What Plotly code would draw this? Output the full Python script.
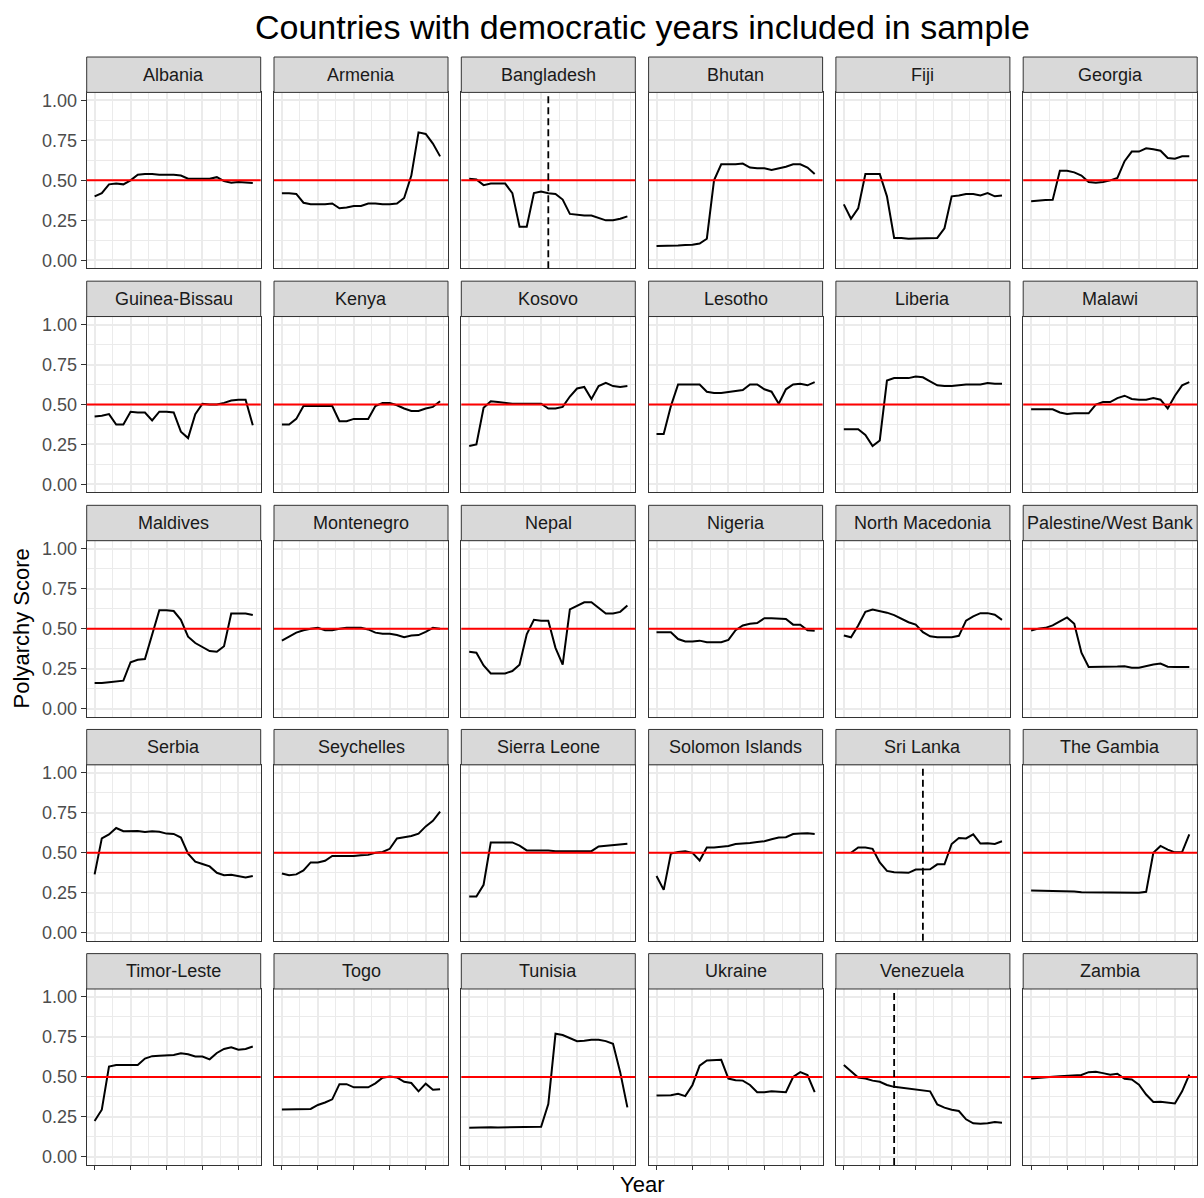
import plotly.graph_objects as go

# ---------------- data ----------------
years = list(range(2000, 2023))
x_ticks = [2000, 2005, 2010, 2015, 2020]
x_minor = [2002.5, 2007.5, 2012.5, 2017.5, 2022.5]
y_ticks = [0, 0.25, 0.5, 0.75, 1.0]
y_ticktext = ["0.00", "0.25", "0.50", "0.75", "1.00"]
y_minor = [0.125, 0.375, 0.625, 0.875]
threshold = 0.5

countries = ["Albania", "Armenia", "Bangladesh", "Bhutan", "Fiji", "Georgia",
             "Guinea-Bissau", "Kenya", "Kosovo", "Lesotho", "Liberia", "Malawi",
             "Maldives", "Montenegro", "Nepal", "Nigeria", "North Macedonia", "Palestine/West Bank",
             "Serbia", "Seychelles", "Sierra Leone", "Solomon Islands", "Sri Lanka", "The Gambia",
             "Timor-Leste", "Togo", "Tunisia", "Ukraine", "Venezuela", "Zambia"]

albania = [0.40, 0.42, 0.475, 0.48, 0.475, 0.50, 0.535, 0.54, 0.54, 0.535, 0.535, 0.535,
           0.53, 0.51, 0.51, 0.51, 0.51, 0.52, 0.495, 0.485, 0.49, 0.487, 0.484]
armenia = [0.42, 0.42, 0.415, 0.36, 0.35, 0.35, 0.35, 0.355, 0.325, 0.33, 0.34, 0.34,
           0.355, 0.355, 0.35, 0.35, 0.355, 0.39, 0.53, 0.80, 0.79, 0.73, 0.65]
bangladesh = [0.51, 0.505, 0.47, 0.48, 0.48, 0.48, 0.42, 0.21, 0.21, 0.42, 0.43, 0.42,
              0.415, 0.38, 0.29, 0.285, 0.28, 0.28, 0.265, 0.25, 0.25, 0.26, 0.275]
bhutan = [0.09, 0.09, 0.092, 0.093, 0.095, 0.097, 0.105, 0.135, 0.50, 0.60, 0.60, 0.60,
          0.605, 0.58, 0.575, 0.575, 0.565, 0.575, 0.585, 0.60, 0.60, 0.58, 0.54]
fiji = [0.35, 0.26, 0.325, 0.54, 0.54, 0.54, 0.40, 0.14, 0.14, 0.135, 0.137, 0.138,
        0.14, 0.14, 0.20, 0.40, 0.405, 0.415, 0.415, 0.405, 0.42, 0.40, 0.405]
georgia = [0.37, 0.375, 0.377, 0.378, 0.56, 0.56, 0.55, 0.53, 0.49, 0.485, 0.49, 0.50,
           0.515, 0.62, 0.68, 0.68, 0.70, 0.695, 0.685, 0.64, 0.635, 0.65, 0.65]
guinea_bissau = [0.425, 0.43, 0.44, 0.375, 0.375, 0.455, 0.45, 0.45, 0.40, 0.455, 0.455, 0.45,
                 0.33, 0.29, 0.44, 0.505, 0.50, 0.50, 0.51, 0.525, 0.53, 0.53, 0.37]
kenya = [0.375, 0.375, 0.41, 0.49, 0.49, 0.49, 0.49, 0.49, 0.395, 0.395, 0.41, 0.41,
         0.41, 0.49, 0.51, 0.51, 0.495, 0.475, 0.46, 0.46, 0.475, 0.485, 0.52]
kosovo = [0.24, 0.25, 0.48, 0.52, 0.515, 0.51, 0.505, 0.505, 0.505, 0.505, 0.505, 0.475,
          0.475, 0.485, 0.55, 0.60, 0.61, 0.535, 0.615, 0.635, 0.615, 0.61, 0.615]
lesotho = [0.315, 0.315, 0.49, 0.625, 0.625, 0.625, 0.625, 0.58, 0.572, 0.572, 0.578, 0.582,
           0.59, 0.625, 0.625, 0.595, 0.58, 0.505, 0.595, 0.625, 0.63, 0.62, 0.64]
liberia = [0.345, 0.345, 0.345, 0.31, 0.24, 0.275, 0.65, 0.665, 0.665, 0.665, 0.675, 0.67,
           0.645, 0.62, 0.615, 0.615, 0.62, 0.625, 0.625, 0.625, 0.635, 0.63, 0.63]
malawi = [0.47, 0.47, 0.47, 0.47, 0.45, 0.44, 0.445, 0.445, 0.445, 0.50, 0.515, 0.515,
          0.54, 0.555, 0.535, 0.53, 0.53, 0.54, 0.53, 0.475, 0.555, 0.62, 0.64]
maldives = [0.16, 0.16, 0.165, 0.17, 0.175, 0.29, 0.305, 0.31, 0.46, 0.615, 0.615, 0.61,
            0.555, 0.45, 0.41, 0.385, 0.36, 0.355, 0.39, 0.595, 0.595, 0.595, 0.585]
montenegro = [0.425, 0.45, 0.475, 0.49, 0.50, 0.505, 0.49, 0.49, 0.50, 0.505, 0.505, 0.505,
              0.495, 0.475, 0.468, 0.468, 0.46, 0.447, 0.457, 0.46, 0.48, 0.505, 0.50]
nepal = [0.355, 0.35, 0.27, 0.22, 0.22, 0.22, 0.235, 0.275, 0.465, 0.555, 0.55, 0.55,
         0.38, 0.275, 0.62, 0.64, 0.665, 0.665, 0.63, 0.595, 0.595, 0.605, 0.645]
nigeria = [0.477, 0.477, 0.477, 0.435, 0.42, 0.42, 0.425, 0.415, 0.415, 0.415, 0.43, 0.49,
           0.52, 0.53, 0.535, 0.565, 0.565, 0.563, 0.56, 0.525, 0.525, 0.49, 0.487]
north_macedonia = [0.457, 0.446, 0.52, 0.605, 0.62, 0.61, 0.60, 0.585, 0.56, 0.54, 0.525, 0.478,
                   0.452, 0.446, 0.446, 0.446, 0.455, 0.55, 0.577, 0.597, 0.597, 0.587, 0.555]
palestine = [0.488, 0.50, 0.505, 0.52, 0.545, 0.57, 0.53, 0.35, 0.26, 0.26, 0.26, 0.26,
             0.263, 0.265, 0.256, 0.256, 0.268, 0.276, 0.282, 0.262, 0.26, 0.26, 0.26]
serbia = [0.365, 0.59, 0.615, 0.655, 0.635, 0.635, 0.637, 0.63, 0.635, 0.632, 0.62, 0.618,
          0.595, 0.495, 0.445, 0.43, 0.415, 0.375, 0.36, 0.362, 0.355, 0.345, 0.355]
seychelles = [0.37, 0.36, 0.365, 0.39, 0.44, 0.44, 0.45, 0.48, 0.48, 0.48, 0.48, 0.485,
              0.487, 0.50, 0.505, 0.525, 0.59, 0.597, 0.605, 0.62, 0.665, 0.70, 0.757]
sierra_leone = [0.227, 0.227, 0.30, 0.565, 0.565, 0.565, 0.565, 0.545, 0.515, 0.515, 0.515, 0.515,
                0.51, 0.51, 0.51, 0.51, 0.51, 0.51, 0.54, 0.545, 0.548, 0.552, 0.556]
solomon_islands = [0.355, 0.268, 0.495, 0.505, 0.51, 0.50, 0.452, 0.533, 0.533, 0.537, 0.543, 0.555,
                   0.557, 0.562, 0.567, 0.572, 0.585, 0.595, 0.597, 0.617, 0.62, 0.622, 0.618]
sri_lanka = [None, 0.50, 0.533, 0.533, 0.525, 0.44, 0.387, 0.378, 0.377, 0.375, 0.395, 0.395,
             0.397, 0.428, 0.428, 0.555, 0.593, 0.59, 0.615, 0.558, 0.56, 0.555, 0.572]
the_gambia = [0.265, 0.264, 0.264, 0.264, 0.263, 0.263, 0.258, 0.253, 0.253, 0.253, 0.253, 0.253,
              0.253, 0.25, 0.25, 0.25, 0.256, 0.50, 0.543, 0.52, 0.503, 0.505, 0.615]
timor_leste = [0.225, 0.295, 0.565, 0.575, 0.575, 0.577, 0.575, 0.615, 0.63, 0.632, 0.635, 0.637,
               0.648, 0.642, 0.628, 0.628, 0.61, 0.65, 0.675, 0.686, 0.67, 0.675, 0.69]
togo = [0.297, 0.297, 0.297, 0.30, 0.30, 0.325, 0.34, 0.36, 0.455, 0.455, 0.435, 0.435,
        0.435, 0.46, 0.495, 0.503, 0.497, 0.47, 0.462, 0.41, 0.458, 0.42, 0.423]
tunisia = [0.183, 0.185, 0.187, 0.185, 0.184, 0.184, 0.185, 0.185, 0.185, 0.185, 0.188, 0.33,
           0.77, 0.762, 0.745, 0.724, 0.727, 0.733, 0.733, 0.724, 0.707, 0.53, 0.31]
ukraine = [0.384, 0.384, 0.386, 0.395, 0.38, 0.45, 0.57, 0.603, 0.607, 0.607, 0.49, 0.48,
           0.477, 0.45, 0.405, 0.405, 0.41, 0.407, 0.405, 0.50, 0.53, 0.512, 0.405]
venezuela = [0.575, 0.535, 0.497, 0.49, 0.477, 0.47, 0.45, 0.438, 0.432, 0.43, 0.42, 0.415,
             0.41, 0.328, 0.308, 0.295, 0.287, 0.235, 0.21, 0.207, 0.21, 0.218, 0.214]
zambia = [0.49, 0.495, 0.50, 0.502, 0.505, 0.508, 0.51, 0.512, 0.53, 0.533, 0.524, 0.514,
          0.52, 0.488, 0.484, 0.452, 0.39, 0.343, 0.345, 0.34, 0.334, 0.41, 0.514]

break_countries = ["Bangladesh", "Sri Lanka", "Venezuela"]
break_years = [2011, 2011, 2007]

series = [albania, armenia, bangladesh, bhutan, fiji, georgia,
          guinea_bissau, kenya, kosovo, lesotho, liberia, malawi,
          maldives, montenegro, nepal, nigeria, north_macedonia, palestine,
          serbia, seychelles, sierra_leone, solomon_islands, sri_lanka, the_gambia,
          timor_leste, togo, tunisia, ukraine, venezuela, zambia]
breaks = dict(zip(break_countries, break_years))

# ---------------- layout geometry ----------------
W, H = 1204, 1198
NCOL, NROW = 6, 5
col_left = [86.7, 274.0, 461.3, 648.6, 835.9, 1023.2]
panel_w = 174.0
row_top = [90.7, 315.6, 540.5, 765.4, 990.3]
panel_h = 176.5
strip_h = 35.5

FONT = "Liberation Sans, Arial, sans-serif"
GRID = "#EBEBEB"
BORDER = "#333333"

fig = go.Figure()
layout = dict(
    width=W, height=H, autosize=False,
    margin=dict(l=0, r=0, t=0, b=0),
    paper_bgcolor="white", plot_bgcolor="white",
    showlegend=False,
    font=dict(family=FONT, color="#1A1A1A"),
)
shapes = []
annotations = []

for k, (name, vals) in enumerate(zip(countries, series)):
    r, c = divmod(k, NCOL)
    sfx = "" if k == 0 else str(k + 1)
    xa, ya = "x" + sfx, "y" + sfx
    L = col_left[c]
    T = row_top[r]
    xdom = [L / W, (L + panel_w) / W]
    ydom = [1 - (T + panel_h) / H, 1 - T / H]

    layout["xaxis" + sfx] = dict(
        domain=xdom, anchor=ya, range=[1998.9, 2023.1],
        tickmode="array", tickvals=x_ticks, showticklabels=False,
        ticks="outside" if r == NROW - 1 else "", ticklen=4, tickwidth=1, tickcolor=BORDER,
        showgrid=True, gridcolor=GRID, gridwidth=1.6,
        minor=dict(tickmode="array", tickvals=x_minor, showgrid=True, gridcolor=GRID, gridwidth=0.9, ticks=""),
        zeroline=False, showline=True, mirror=True, linecolor=BORDER, linewidth=1,
        fixedrange=True,
    )
    layout["yaxis" + sfx] = dict(
        domain=ydom, anchor=xa, range=[-0.05, 1.05],
        tickmode="array", tickvals=y_ticks, ticktext=y_ticktext,
        showticklabels=(c == 0),
        tickfont=dict(family=FONT, size=18, color="#4D4D4D"),
        ticks="outside" if c == 0 else "", ticklen=5, tickwidth=1, tickcolor=BORDER,
        showgrid=True, gridcolor=GRID, gridwidth=1.6,
        minor=dict(tickmode="array", tickvals=y_minor, showgrid=True, gridcolor=GRID, gridwidth=0.9, ticks=""),
        zeroline=False, showline=True, mirror=True, linecolor=BORDER, linewidth=1,
        fixedrange=True,
    )

    fig.add_trace(go.Scatter(
        x=years, y=vals, mode="lines", xaxis=xa, yaxis=ya,
        line=dict(color="black", width=2), connectgaps=False, hoverinfo="skip",
    ))

    # threshold line
    shapes.append(dict(type="line", xref=xa + " domain", yref=ya,
                       x0=0, x1=1, y0=threshold, y1=threshold,
                       line=dict(color="#FF0000", width=2), layer="above"))
    # break year
    if name in breaks:
        shapes.append(dict(type="line", xref=xa, yref=ya + " domain",
                           x0=breaks[name], x1=breaks[name], y0=0, y1=1,
                           line=dict(color="black", width=1.8, dash="7px,4px"), layer="above"))

    # strip
    shapes.append(dict(type="rect", xref="paper", yref="paper",
                       x0=L / W, x1=(L + panel_w) / W,
                       y0=1 - T / H, y1=1 - (T - strip_h) / H,
                       fillcolor="#D9D9D9", line=dict(color=BORDER, width=1), layer="above"))
    annotations.append(dict(text=name, xref="paper", yref="paper",
                            x=(L + panel_w / 2) / W, y=1 - (T - strip_h / 2) / H,
                            xanchor="center", yanchor="middle", showarrow=False,
                            font=dict(family=FONT, size=18, color="#1A1A1A")))

# titles
annotations.append(dict(text="Countries with democratic years included in sample",
                        xref="paper", yref="paper", x=642 / W, y=1 - 25 / H,
                        xanchor="center", yanchor="middle", showarrow=False,
                        font=dict(family=FONT, size=34, color="black")))
annotations.append(dict(text="Year", xref="paper", yref="paper", x=642 / W, y=1 - 1186 / H,
                        xanchor="center", yanchor="middle", showarrow=False,
                        font=dict(family=FONT, size=22, color="black")))
annotations.append(dict(text="Polyarchy Score", xref="paper", yref="paper", x=21 / W, y=1 - 628.5 / H,
                        xanchor="center", yanchor="middle", showarrow=False, textangle=-90,
                        font=dict(family=FONT, size=22, color="black")))

layout["shapes"] = shapes
layout["annotations"] = annotations
fig.update_layout(**layout)
fig.write_html("out.html")
